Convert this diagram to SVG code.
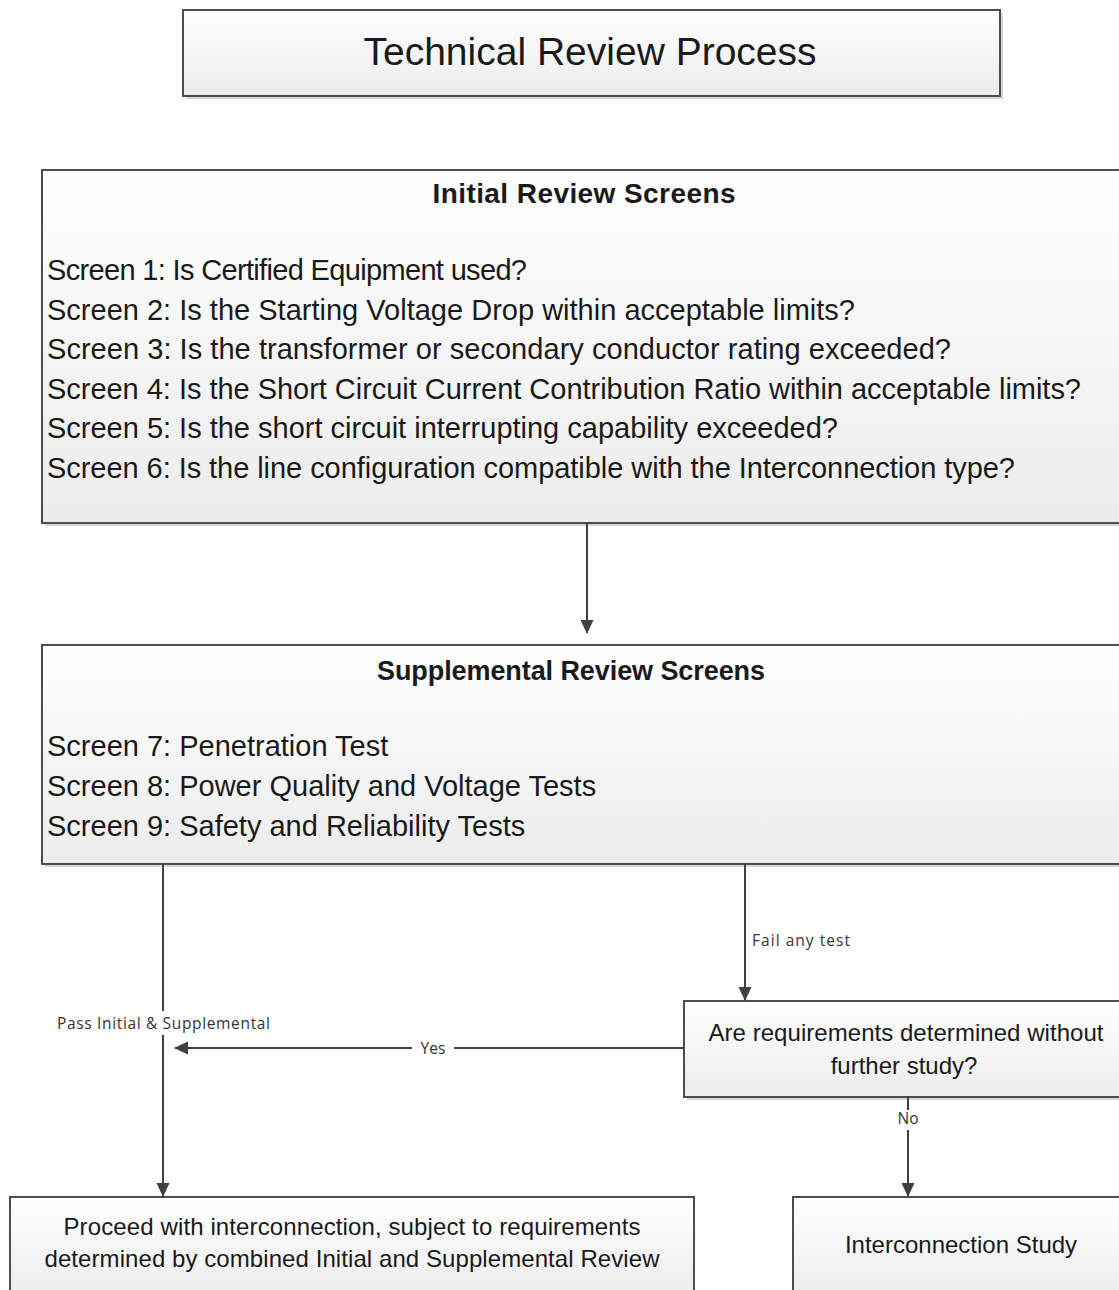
<svg xmlns="http://www.w3.org/2000/svg" width="1119" height="1290" viewBox="0 0 1119 1290">
<style>
.box{stroke:#4d4d4d;stroke-width:2;fill:url(#g)}
.sh{fill:#d6d6d6}
.t{font-family:"Liberation Sans",Arial,sans-serif;fill:#1a1a1a}
.s{font-size:29px}
.m{font-size:24px}
.b{font-weight:bold}
.lbl{font-family:"Open Sans",Lato,sans-serif;font-size:15.5px;fill:#333}
.c{stroke:#404040;stroke-width:2;fill:none}
</style>
<defs>
<linearGradient id="g" x1="0" y1="0" x2="0" y2="1">
<stop offset="0" stop-color="#ffffff"/>
<stop offset="1" stop-color="#ececec"/>
</linearGradient>
<marker id="ah" markerWidth="14" markerHeight="14" refX="13" refY="6.5" orient="auto" markerUnits="userSpaceOnUse">
<path d="M0,0 L14,6.5 L0,13 z" fill="#404040"/>
</marker>
</defs>
<rect width="1119" height="1290" fill="#fff"/>

<g id="title">
<rect class="sh" x="186" y="13" width="817" height="86"/>
<rect class="box" x="183" y="10" width="817" height="86"/>
<text class="t" x="590" y="65" font-size="39" text-anchor="middle" textLength="453">Technical Review Process</text>
</g>

<g id="initial">
<rect class="sh" x="45" y="173" width="1080" height="353"/>
<rect class="box" x="42" y="170" width="1080" height="353"/>
<text class="t b" x="584" y="203" font-size="28" text-anchor="middle" textLength="303">Initial Review Screens</text>
<text class="t s" x="47" y="280" textLength="480">Screen 1: Is Certified Equipment used?</text>
<text class="t s" x="47" y="320" textLength="808">Screen 2: Is the Starting Voltage Drop within acceptable limits?</text>
<text class="t s" x="47" y="359" textLength="904">Screen 3: Is the transformer or secondary conductor rating exceeded?</text>
<text class="t s" x="47" y="399" textLength="1034">Screen 4: Is the Short Circuit Current Contribution Ratio within acceptable limits?</text>
<text class="t s" x="47" y="438" textLength="791">Screen 5: Is the short circuit interrupting capability exceeded?</text>
<text class="t s" x="47" y="478" textLength="968">Screen 6: Is the line configuration compatible with the Interconnection type?</text>
</g>

<g id="supplemental">
<rect class="sh" x="45" y="648" width="1080" height="219"/>
<rect class="box" x="42" y="645" width="1080" height="219"/>
<text class="t b" x="571" y="680" font-size="27" text-anchor="middle" textLength="388">Supplemental Review Screens</text>
<text class="t s" x="47" y="756">Screen 7: Penetration Test</text>
<text class="t s" x="47" y="796">Screen 8: Power Quality and Voltage Tests</text>
<text class="t s" x="47" y="836">Screen 9: Safety and Reliability Tests</text>
</g>

<g id="decision">
<rect class="sh" x="687" y="1004" width="440" height="96"/>
<rect class="box" x="684" y="1001" width="440" height="96"/>
<text class="t m" x="906" y="1041" text-anchor="middle" textLength="395">Are requirements determined without</text>
<text class="t m" x="904" y="1074" text-anchor="middle">further study?</text>
</g>

<g id="proceed">
<rect class="box" x="10" y="1197" width="684" height="100"/>
<text class="t m" x="352" y="1235" text-anchor="middle" textLength="577">Proceed with interconnection, subject to requirements</text>
<text class="t m" x="352" y="1267" text-anchor="middle" textLength="615">determined by combined Initial and Supplemental Review</text>
</g>

<g id="study">
<rect class="box" x="793" y="1197" width="340" height="100"/>
<text class="t m" x="961" y="1253" text-anchor="middle">Interconnection Study</text>
</g>

<g id="connectors">
<line class="c" x1="587" y1="523" x2="587" y2="633" marker-end="url(#ah)"/>
<line class="c" x1="745" y1="864" x2="745" y2="1000" marker-end="url(#ah)"/>
<text class="lbl" x="752" y="946" textLength="98">Fail any test</text>
<line class="c" x1="163" y1="864" x2="163" y2="1011"/>
<line class="c" x1="163" y1="1035" x2="163" y2="1196" marker-end="url(#ah)"/>
<text class="lbl" x="57" y="1029" textLength="213">Pass Initial &amp; Supplemental</text>
<line class="c" x1="684" y1="1048" x2="454" y2="1048"/>
<line class="c" x1="412" y1="1048" x2="175" y2="1048" marker-end="url(#ah)"/>
<text class="lbl" x="433" y="1054" text-anchor="middle">Yes</text>
<line class="c" x1="908" y1="1097" x2="908" y2="1110"/>
<line class="c" x1="908" y1="1130" x2="908" y2="1196" marker-end="url(#ah)"/>
<text class="lbl" x="908" y="1124" text-anchor="middle">No</text>
</g>
</svg>
